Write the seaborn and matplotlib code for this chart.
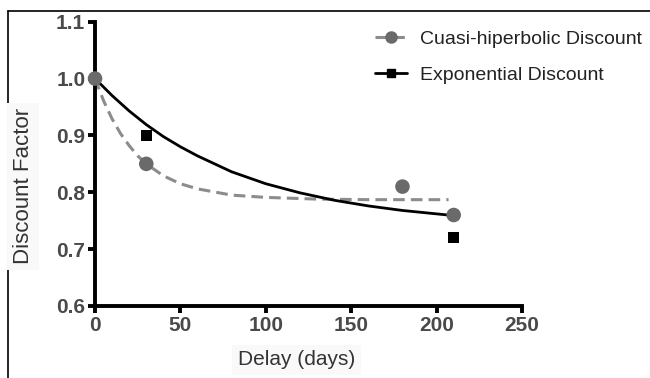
import matplotlib
matplotlib.use("Agg")
import matplotlib.pyplot as plt
import matplotlib.lines as mlines
import numpy as np
import pandas as pd
import seaborn as sns

# observed points
quasi_delay = [0, 30, 180, 210]
quasi_factor = [1.00, 0.85, 0.81, 0.76]
expo_delay = [0, 30, 210]
expo_factor = [1.00, 0.90, 0.72]

# fitted curves
quasi_fit_delay = [0, 5, 10, 15, 20, 25, 30, 40, 50, 60, 80, 100, 130, 160, 207]
quasi_fit_factor = [1.000, 0.961, 0.929, 0.903, 0.882, 0.864, 0.850, 0.829, 0.815,
                    0.806, 0.795, 0.791, 0.788, 0.787, 0.787]
expo_fit_delay = [0, 10, 20, 30, 40, 50, 60, 80, 100, 120, 140, 160, 180, 200, 210]
expo_fit_factor = [1.000, 0.970, 0.943, 0.919, 0.898, 0.880, 0.864, 0.836, 0.815,
                   0.799, 0.786, 0.776, 0.768, 0.762, 0.759]

x_ticks = [0, 50, 100, 150, 200, 250]
y_ticks = [0.6, 0.7, 0.8, 0.9, 1.0, 1.1]

sns.set_style("ticks")
plt.rcParams['font.family'] = ['Liberation Sans', 'DejaVu Sans']

gray_line = "#8c8c8c"
gray_dot = "#6a6a6a"
dash = (0, (3.8, 2))

fig = plt.figure(figsize=(6.5, 3.78), dpi=100)
ax = fig.add_axes([0.1462, 0.1905, 0.6569, 0.7521])

sns.lineplot(x=quasi_fit_delay, y=quasi_fit_factor, ax=ax, color=gray_line,
             linewidth=2.2, linestyle=dash, zorder=2)
sns.lineplot(x=expo_fit_delay, y=expo_fit_factor, ax=ax, color="black",
             linewidth=2.0, zorder=2)
sns.scatterplot(x=expo_delay, y=expo_factor, ax=ax, color="black", marker="s",
                s=60, edgecolor="none", zorder=3)
sns.scatterplot(x=quasi_delay, y=quasi_factor, ax=ax, color=gray_dot, marker="o",
                s=110, edgecolor="none", zorder=4)

ax.set_xlim(0, 250)
ax.set_ylim(0.6, 1.1)
ax.set_xticks(x_ticks)
ax.set_yticks(y_ticks)
ax.set_xticklabels([str(t) for t in x_ticks])
ax.set_yticklabels(['{:.1f}'.format(t) for t in y_ticks])
sns.despine(ax=ax)
for s in ["left", "bottom"]:
  ax.spines[s].set_linewidth(2.8)
  ax.spines[s].set_color("black")
ax.tick_params(axis="both", direction="out", length=5, width=2.8, color="black",
               labelsize=15, labelcolor="#4a4a4a", pad=2)
for lab in ax.get_xticklabels() + ax.get_yticklabels():
  lab.set_fontweight("bold")
ax.set_xlabel("")
ax.set_ylabel("")
for art in ax.lines + ax.collections:
  art.set_clip_on(False)

fig.text(0.4565, 0.048, "Delay (days)", ha="center", va="center", fontsize=15,
         color="#333333",
         bbox=dict(facecolor="#f9f9f9", edgecolor="none", pad=4))
fig.text(0.036, 0.507, "Discount Factor", ha="center", va="center", rotation=90,
         fontsize=16, color="#333333",
         bbox=dict(facecolor="#f9f9f9", edgecolor="none", pad=4))

h1 = mlines.Line2D([], [], color=gray_line, linestyle=dash, linewidth=2.2,
                   marker="o", markersize=8, markerfacecolor=gray_dot,
                   markeredgecolor=gray_dot)
h2 = mlines.Line2D([], [], color="black", linewidth=2.0, marker="s", markersize=6)
fig.legend([h1, h2], ["Cuasi-hiperbolic Discount", "Exponential Discount"],
           loc="upper left", bbox_to_anchor=(0.577, 0.92), frameon=False,
           fontsize=14, handlelength=1.65, handletextpad=0.65, labelspacing=0.95,
           borderpad=0, borderaxespad=0, labelcolor="#222222")

# screenshot frame lines
fig.add_artist(mlines.Line2D([8 / 650, 8 / 650], [0, 1 - 11 / 378],
                             transform=fig.transFigure, color="black", linewidth=1.2))
fig.add_artist(mlines.Line2D([8 / 650, 1], [1 - 11 / 378, 1 - 11 / 378],
                             transform=fig.transFigure, color="black", linewidth=1.2))

fig.savefig("out.png", dpi=100, facecolor="white")
